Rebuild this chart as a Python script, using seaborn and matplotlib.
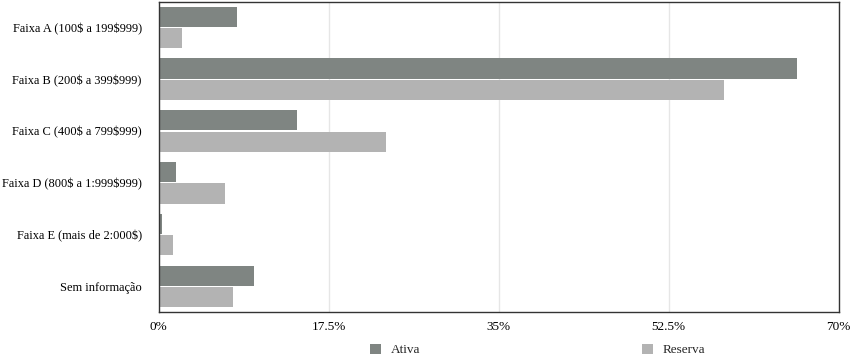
import matplotlib
matplotlib.use("Agg")
import matplotlib.pyplot as plt
import seaborn as sns
import pandas as pd

categories = [
    "Faixa A (100$ a 199$999)",
    "Faixa B (200$ a 399$999)",
    "Faixa C (400$ a 799$999)",
    "Faixa D (800$ a 1:999$999)",
    "Faixa E (mais de 2:000$)",
    "Sem informação",
]
ativa = [8.1, 65.7, 14.3, 1.75, 0.38, 9.8]
reserva = [2.4, 58.2, 23.4, 6.8, 1.5, 7.7]
series_names = ["Ativa", "Reserva"]
x_ticks = [0, 17.5, 35, 52.5, 70]
x_tick_labels = ["0%", "17.5%", "35%", "52.5%", "70%"]

df = pd.DataFrame({
    "categoria": categories * 2,
    "valor": ativa + reserva,
    "serie": [series_names[0]] * len(categories) + [series_names[1]] * len(categories),
})

sns.set_style("white")
plt.rcParams["font.family"] = ["Liberation Serif", "DejaVu Serif"]
plt.rcParams["text.parse_math"] = False

FS = 9.5
FS_Y = 8.9
fig = plt.figure(figsize=(8.5, 3.63), dpi=100)
ax = fig.add_axes([158.5 / 850, 1 - 312.3 / 363, (838.5 - 158.5) / 850, (312.3 - 1.5) / 363])

palette = {"Ativa": "#7f8582", "Reserva": "#b3b3b3"}
sns.barplot(data=df, y="categoria", x="valor", hue="serie", orient="h",
            palette=palette, width=0.83, gap=0.065, linewidth=0,
            saturation=1, ax=ax, legend=True)

ax.set_xlim(0, 70)
ax.set_xticks(x_ticks)
ax.set_xticklabels(x_tick_labels, fontsize=FS, color="black")
ax.tick_params(axis="x", length=0, pad=6)
ax.tick_params(axis="y", length=0, pad=12, labelsize=FS_Y, labelcolor="black")
ax.set_xlabel("")
ax.set_ylabel("")
ax.grid(axis="x", color="#e6e6e6", linewidth=1)
ax.set_axisbelow(True)
for s in ax.spines.values():
    s.set_visible(True)
    s.set_color("#333333")
    s.set_linewidth(1.0)

handles, labels = ax.get_legend_handles_labels()
ax.get_legend().remove()
fig.legend(handles, labels, loc="center left",
           bbox_to_anchor=(370 / 850, 1 - 350 / 363),
           ncol=2, frameon=False, fontsize=FS, borderpad=0, borderaxespad=0,
           handlelength=0.85, handleheight=0.85, handletextpad=0.7,
           columnspacing=16.85)

fig.savefig("out.png", dpi=100)
